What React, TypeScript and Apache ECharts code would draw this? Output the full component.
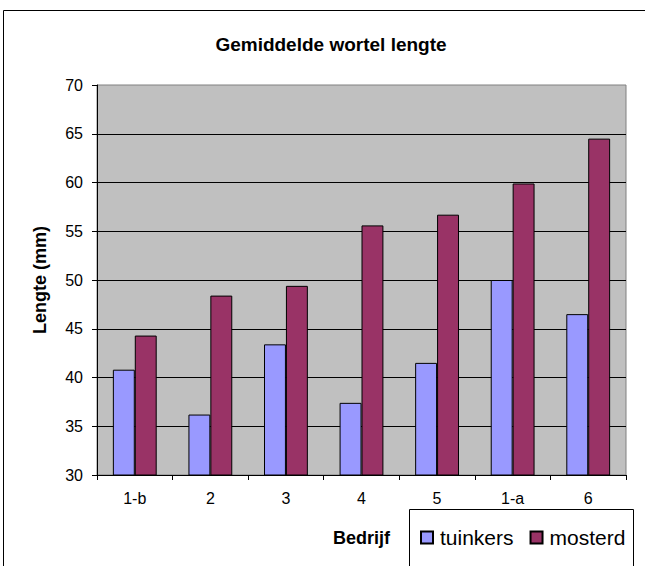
import React, { useEffect, useRef } from "react";
import * as echarts from "echarts";

const categories = ["1-b", "2", "3", "4", "5", "1-a", "6"];
const tuinkers = [40.8, 36.2, 43.4, 37.4, 41.5, 50.0, 46.5];
const mosterd = [44.3, 48.4, 49.4, 55.6, 56.7, 59.9, 64.5];
const yMin = 30;
const yMax = 70;
const yStep = 5;

const FONT = "'Liberation Sans', Arial, sans-serif";

export default function App() {
  const ref = useRef<HTMLDivElement>(null);
  useEffect(() => {
    if (!ref.current) return;
    const chart = echarts.init(ref.current, undefined, { renderer: "svg" });
    chart.setOption({
      animation: false,
      backgroundColor: "#ffffff",
      textStyle: { fontFamily: FONT, color: "#000" },
      title: {
        text: "Gemiddelde wortel lengte",
        left: 326,
        top: 30,
        textAlign: "center",
        textStyle: { fontFamily: FONT, fontSize: 19, fontWeight: "bold", color: "#000" },
      },
      grid: {
        left: 97,
        top: 85,
        width: 529,
        height: 390,
        containLabel: false,
        outerBoundsMode: "none",
        show: true,
        backgroundColor: "#C0C0C0",
        borderColor: "#808080",
        borderWidth: 1,
      },
      legend: {
        left: 420,
        top: 527,
        padding: 0,
        itemWidth: 12,
        itemHeight: 12,
        itemGap: 16,
        icon: "rect",
        textStyle: { fontFamily: FONT, fontSize: 21, color: "#000", padding: [0, 0, 0, 2] },
        data: ["tuinkers", "mosterd"],
      },
      xAxis: {
        type: "category",
        data: categories,
        name: "Bedrijf",
        nameLocation: "middle",
        nameGap: 54,
        nameTextStyle: {
          fontFamily: FONT,
          fontSize: 18,
          fontWeight: "bold",
          color: "#000",
        },
        axisLine: { show: true, lineStyle: { color: "#000", width: 1 } },
        axisTick: { show: true, length: 5, lineStyle: { color: "#000" } },
        axisLabel: { fontFamily: FONT, fontSize: 16, color: "#000", margin: 15 },
        splitLine: { show: false },
      },
      yAxis: {
        type: "value",
        min: yMin,
        max: yMax,
        interval: yStep,
        name: "Lengte (mm)",
        nameLocation: "middle",
        nameGap: 48,
        nameRotate: 90,
        nameTextStyle: { fontFamily: FONT, fontSize: 18, fontWeight: "bold", color: "#000" },
        axisLine: { show: true, lineStyle: { color: "#000", width: 1 } },
        axisTick: { show: true, length: 5, lineStyle: { color: "#000" } },
        axisLabel: { fontFamily: FONT, fontSize: 16, color: "#000", margin: 14 },
        splitLine: {
          show: true,
          showMinLine: false,
          showMaxLine: false,
          lineStyle: { color: "#000", width: 1 },
        },
      },
      graphic: [
        {
          type: "rect",
          silent: true,
          z: -10,
          shape: { x: 3.5, y: 10.5, width: 700, height: 700 },
          style: { fill: "none", stroke: "#000", lineWidth: 1 },
        },
        {
          type: "rect",
          silent: true,
          z: -10,
          shape: { x: 409.5, y: 509.5, width: 224, height: 100 },
          style: { fill: "#fff", stroke: "#000", lineWidth: 1 },
        },
      ],
      series: [
        {
          name: "tuinkers",
          type: "bar",
          data: tuinkers,
          barGap: "0%",
          barCategoryGap: "42%",
          itemStyle: { color: "#9999FF", borderColor: "#000", borderWidth: 1 },
        },
        {
          name: "mosterd",
          type: "bar",
          data: mosterd,
          barGap: "0%",
          barCategoryGap: "42%",
          itemStyle: { color: "#993366", borderColor: "#000", borderWidth: 1 },
        },
      ],
    });
    return () => chart.dispose();
  }, []);
  return (
    <div
      ref={ref}
      style={{ position: "absolute", left: 0, top: 0, width: 645, height: 566 }}
    />
  );
}
